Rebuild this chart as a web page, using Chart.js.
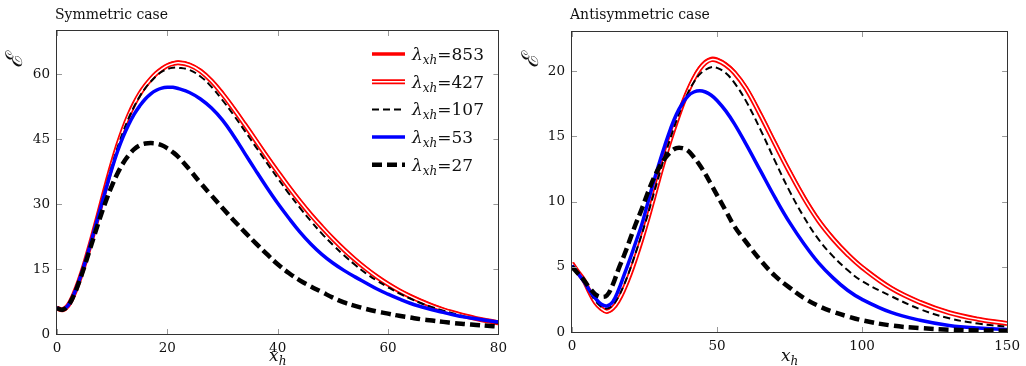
<!DOCTYPE html>
<html>
<head>
<meta charset="utf-8">
<script src="https://cdn.jsdelivr.net/npm/chart.js@4.4.1/dist/chart.umd.min.js"></script>
<style>
  html, body { margin: 0; padding: 0; background: #fff; }
  #wrap { position: relative; width: 1026px; height: 366px; }
  canvas { position: absolute; top: 0; }
</style>
</head>
<body>
<div id="wrap">
  <canvas id="sym" width="513" height="366" style="left:0"></canvas>
  <canvas id="anti" width="513" height="366" style="left:513px"></canvas>
</div>
<script>
// lambda_xh values, one per curve
const lambdas = ['853', '427', '107', '53', '27'];

// symmetric case
const symX = [0,1,2,3,4,5,6,7,8,9,10,11,12,13,14,15,16,17,18,19,20,21,22,
  24,26,28,30,32,34,36,38,40,42,44,46,48,50,52,54,56,58,60,62,64,66,68,70,72,74,76,78,80];
const sym853 = [6.0,5.6,6.6,9.0,12.3,16.2,20.6,25.2,30.0,34.8,39.4,43.6,47.3,50.5,53.2,55.5,57.4,59.0,60.3,61.3,62.1,62.6,62.8,
  62.3,60.9,58.6,55.6,52.2,48.6,44.9,41.2,37.6,34.1,30.8,27.7,24.8,22.1,19.6,17.3,15.2,13.3,11.6,10.1,8.8,7.65,6.6,5.7,4.9,4.2,3.6,3.1,2.65];
const sym427 = [6.0,5.6,6.6,9.0,12.3,16.2,20.6,25.2,30.0,34.8,39.4,43.6,47.3,50.5,53.2,55.5,57.35,58.9,60.2,61.2,62.0,62.45,62.65,
  62.15,60.75,58.45,55.45,52.05,48.45,44.75,41.05,37.45,33.95,30.65,27.55,24.7,22.0,19.5,17.2,15.1,13.2,11.5,10.0,8.7,7.55,6.5,5.6,4.85,4.15,3.55,3.05,2.6];
const sym107 = [6.0,5.6,6.6,9.0,12.3,16.2,20.6,25.1,29.8,34.6,39.1,43.2,46.8,49.9,52.6,54.9,56.8,58.3,59.6,60.6,61.2,61.5,61.5,
  61.0,59.5,57.1,54.0,50.6,47.0,43.3,39.6,36.0,32.5,29.2,26.1,23.2,20.6,18.2,16.0,14.0,12.3,10.8,9.4,8.2,7.1,6.2,5.4,4.7,4.0,3.5,3.0,2.55];
const sym53 = [6.0,5.6,6.6,9.0,12.3,16.2,20.5,25.0,29.6,34.1,38.4,42.3,45.6,48.4,50.8,52.7,54.3,55.5,56.3,56.8,57.0,57.0,56.7,
  55.8,54.3,52.2,49.4,45.8,41.8,37.8,33.9,30.2,26.8,23.6,20.8,18.4,16.4,14.7,13.2,11.8,10.4,9.2,8.1,7.1,6.3,5.6,5.0,4.4,3.9,3.5,3.1,2.8];
const sym27 = [6.0,5.6,6.5,8.8,12.0,15.7,19.7,23.7,27.6,31.2,34.4,37.2,39.5,41.3,42.7,43.6,44.0,44.1,44.0,43.6,42.9,42.0,40.9,
  38.0,34.9,32.0,29.1,26.3,23.6,21.0,18.5,16.1,14.1,12.4,11.0,9.7,8.4,7.3,6.5,5.8,5.2,4.7,4.2,3.8,3.4,3.1,2.8,2.5,2.3,2.1,1.9,1.7];
const symXTicks = [0, 20, 40, 60, 80];
const symYTicks = [0, 15, 30, 45, 60];

// antisymmetric case
const antiX = [0,2,4,6,8,10,12,14,16,18,20,22,24,26,28,30,32,34,36,38,40,42,44,46,48,50,
  53,56,60,65,70,75,80,85,90,95,100,110,120,130,140,150];
const anti853 = [5.3,4.6,4.0,3.1,2.3,1.8,1.55,1.8,2.4,3.3,4.4,5.7,7.1,8.6,10.2,11.85,13.4,14.85,16.2,17.45,18.55,19.5,20.25,20.75,20.98,20.92,
  20.55,19.95,18.75,16.7,14.5,12.35,10.35,8.6,7.2,6.0,5.0,3.4,2.3,1.5,1.0,0.67];
const anti427 = [5.25,4.6,4.0,3.1,2.3,1.82,1.58,1.82,2.42,3.32,4.42,5.7,7.08,8.58,10.18,11.82,13.37,14.82,16.15,17.4,18.5,19.43,20.16,20.65,20.88,20.83,
  20.47,19.87,18.67,16.62,14.42,12.27,10.27,8.53,7.13,5.95,4.95,3.36,2.27,1.48,0.98,0.65];
const anti107 = [5.1,4.5,3.9,3.1,2.4,1.95,1.8,2.05,2.7,3.65,4.8,6.1,7.45,8.9,10.45,12.0,13.5,14.9,16.2,17.35,18.35,19.15,19.75,20.1,20.3,20.25,
  19.85,19.1,17.7,15.5,13.1,10.8,8.8,7.1,5.8,4.75,3.9,2.75,1.75,1.05,0.65,0.4];
const anti53 = [5.1,4.5,3.9,3.2,2.6,2.15,2.0,2.3,3.2,4.4,5.6,6.9,8.2,9.8,11.4,12.9,14.3,15.6,16.7,17.5,18.1,18.4,18.5,18.4,18.15,17.75,
  16.95,15.95,14.4,12.35,10.3,8.4,6.75,5.3,4.15,3.2,2.5,1.5,0.9,0.5,0.3,0.2];
const anti27 = [5.0,4.5,4.0,3.4,2.9,2.7,2.8,3.6,4.8,5.9,7.1,8.3,9.4,10.6,11.7,12.6,13.3,13.8,14.1,14.1,13.9,13.4,12.8,12.1,11.3,10.5,
  9.3,8.1,6.9,5.5,4.3,3.4,2.6,2.0,1.55,1.2,0.9,0.5,0.3,0.18,0.12,0.1];
const antiXTicks = [0, 50, 100, 150];
const antiYTicks = [0, 5, 10, 15, 20];

const styles = [
  { color: '#ff0000', width: 3.5, dash: [] },
  { color: '#ff0000', width: 5, dash: [], inner: '#ffffff' },
  { color: '#000000', width: 2, dash: [7, 4] },
  { color: '#0000ff', width: 3.5, dash: [] },
  { color: '#000000', width: 4.5, dash: [10, 5] },
];

const FONT = '"DejaVu Serif", "Liberation Serif", serif';

// frame, inward ticks, titles and legend
const decor = {
  id: 'decor',
  afterDraw(chart, args, o) {
    const { ctx, chartArea: a, scales: { x, y } } = chart;
    ctx.save();
    ctx.setLineDash([]);
    ctx.strokeStyle = '#999';
    ctx.lineWidth = 1;
    ctx.beginPath();
    x.ticks.forEach(t => {
      const px = Math.round(x.getPixelForValue(t.value)) + 0.5;
      ctx.moveTo(px, a.bottom); ctx.lineTo(px, a.bottom - 5);
      ctx.moveTo(px, a.top); ctx.lineTo(px, a.top + 5);
    });
    y.ticks.forEach(t => {
      const py = Math.round(y.getPixelForValue(t.value)) + 0.5;
      ctx.moveTo(a.left, py); ctx.lineTo(a.left + 5, py);
      ctx.moveTo(a.right, py); ctx.lineTo(a.right - 5, py);
    });
    ctx.stroke();
    ctx.strokeStyle = '#333';
    ctx.strokeRect(Math.round(a.left) - 0.5, Math.round(a.top) - 0.5, Math.round(a.width) + 1, Math.round(a.height) + 1);

    ctx.fillStyle = '#111';
    // title
    ctx.font = '14px ' + FONT;
    ctx.textAlign = 'left';
    ctx.textBaseline = 'alphabetic';
    ctx.fillText(o.title, a.left - 2, 19);

    // y label
    ctx.save();
    ctx.translate(o.yLabelX, 61);
    ctx.rotate(-Math.PI / 2);
    ctx.font = 'italic 23px ' + FONT;
    ctx.textAlign = 'center';
    ctx.textBaseline = 'middle';
    ctx.fillText('\u2130', 0, 0);
    ctx.restore();

    // x label x_h
    const cx = (a.left + a.right) / 2;
    ctx.font = 'italic 17px ' + FONT;
    const wx = ctx.measureText('x').width;
    ctx.font = 'italic 12px ' + FONT;
    const wh = ctx.measureText('h').width;
    const sx = cx - (wx + wh) / 2;
    ctx.font = 'italic 17px ' + FONT;
    ctx.fillText('x', sx, 361);
    ctx.font = 'italic 12px ' + FONT;
    ctx.fillText('h', sx + wx, 365);

    if (o.legend) {
      lambdas.forEach((lab, i) => {
        const ly = 54 + i * 27.7;
        const st = styles[i];
        ctx.strokeStyle = st.color;
        ctx.lineWidth = st.width;
        ctx.setLineDash(st.dash);
        ctx.beginPath(); ctx.moveTo(372, ly); ctx.lineTo(405, ly); ctx.stroke();
        if (st.inner) {
          ctx.strokeStyle = st.inner;
          ctx.lineWidth = 1.5;
          ctx.beginPath(); ctx.moveTo(372, ly); ctx.lineTo(405, ly); ctx.stroke();
        }
        ctx.setLineDash([]);
        let tx = 412;
        const base = ly + 6;
        ctx.font = 'italic 17px ' + FONT;
        ctx.fillText('\u03bb', tx, base);
        tx += ctx.measureText('\u03bb').width;
        ctx.font = 'italic 12px ' + FONT;
        ctx.fillText('xh', tx, base + 4);
        tx += ctx.measureText('xh').width;
        ctx.font = '17px ' + FONT;
        ctx.fillText('=' + lab, tx, base);
      });
    }
    ctx.restore();
  }
};

function makeChart(id, xs, series, xTicks, yTicks, xMax, yMax, box, title, legend) {
  const datasets = [];
  series.forEach((ys, i) => {
    const st = styles[i];
    const pts = xs.map((x, j) => ({ x: x, y: ys[j] }));
    datasets.push({
      label: lambdas[i], data: pts,
      borderColor: st.color, borderWidth: st.width, borderDash: st.dash,
      pointRadius: 0, fill: false, tension: 0.4,
      order: 10 - 2 * i
    });
    if (st.inner) {
      datasets.push({
        label: lambdas[i] + ' inner', data: pts,
        borderColor: st.inner, borderWidth: 1.5,
        pointRadius: 0, fill: false, tension: 0.4,
        order: 10 - 2 * i - 1
      });
    }
  });

  return new Chart(document.getElementById(id).getContext('2d'), {
    type: 'line',
    data: { datasets: datasets },
    plugins: [decor],
    options: {
      responsive: false,
      animation: false,
      events: [],
      layout: { padding: { left: 0, top: box.top, right: box.right, bottom: 0 } },
      plugins: {
        legend: { display: false },
        tooltip: { enabled: false },
        decor: { title: title, legend: legend, yLabelX: box.yLabelX }
      },
      scales: {
        x: {
          type: 'linear', min: 0, max: xMax,
          grid: { display: false, drawTicks: false },
          border: { display: false },
          afterBuildTicks: s => { s.ticks = xTicks.map(v => ({ value: v })); },
          afterFit: s => { s.height = box.xh; },
          ticks: { padding: 6, color: '#111', maxRotation: 0, font: { family: FONT, size: 13.5 } }
        },
        y: {
          type: 'linear', min: 0, max: yMax,
          grid: { display: false, drawTicks: false },
          border: { display: false },
          afterBuildTicks: s => { s.ticks = yTicks.map(v => ({ value: v })); },
          afterFit: s => { s.width = box.yw; },
          ticks: { padding: 7, color: '#111', font: { family: FONT, size: 13.5 } }
        }
      }
    }
  });
}

makeChart('sym', symX, [sym853, sym427, sym107, sym53, sym27], symXTicks, symYTicks, 80, 70,
  { top: 31, right: 13, yw: 57, xh: 32, yLabelX: 16 }, 'Symmetric case', true);
makeChart('anti', antiX, [anti853, anti427, anti107, anti53, anti27], antiXTicks, antiYTicks, 150, 23,
  { top: 32, right: 15, yw: 59, xh: 34, yLabelX: 19 }, 'Antisymmetric case', false);
</script>
</body>
</html>
